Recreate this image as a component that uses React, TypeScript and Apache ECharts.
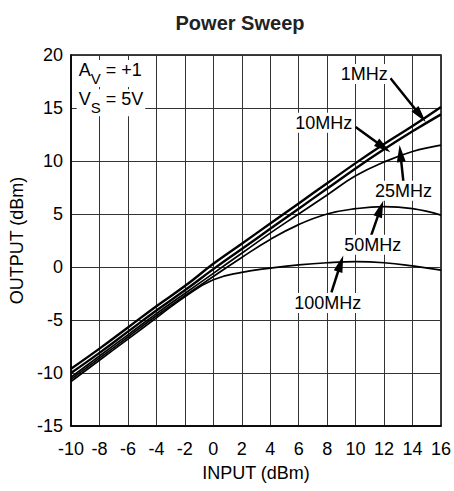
import React, { useEffect, useRef } from 'react';
import * as echarts from 'echarts';

const inputDbm = [-10, -8, -6, -4, -2, 0, 2, 4, 6, 8, 10, 12, 14, 16];
const out1MHz = [-9.6, -7.7, -5.7, -3.7, -1.8, 0.3, 2.2, 4.1, 6.0, 7.9, 9.8, 11.6, 13.3, 15.1];
const out10MHz = [-10.0, -8.1, -6.1, -4.1, -2.2, -0.2, 1.7, 3.6, 5.5, 7.4, 9.3, 11.1, 12.8, 14.4];
const out25MHz = [-10.4, -8.4, -6.4, -4.4, -2.5, -0.6, 1.3, 3.2, 5.0, 6.8, 8.6, 9.9, 10.9, 11.5];
const out50MHz = [-10.6, -8.6, -6.6, -4.6, -2.7, -0.9, 0.9, 2.6, 4.0, 5.0, 5.5, 5.7, 5.5, 4.9];
const out100MHz = [-10.8, -8.8, -6.8, -4.8, -2.8, -1.2, -0.5, -0.1, 0.2, 0.4, 0.5, 0.4, 0.1, -0.3];

const seriesNames = ['1MHz', '10MHz', '25MHz', '50MHz', '100MHz'];
const seriesValues = [out1MHz, out10MHz, out25MHz, out50MHz, out100MHz];

// label anchor points (data coords) and arrows [from, to]
const labelPoints: [number, number][] = [
  [10.6, 18.2],
  [7.76, 13.6],
  [13.36, 7.2],
  [11.2, 2.1],
  [8.04, -3.4],
];
const arrowFrom: [number, number][] = [
  [12.45, 17.8],
  [10.0, 13.2],
  [13.36, 8.0],
  [11.1, 3.0],
  [8.3, -2.4],
];
const arrowTo: [number, number][] = [
  [14.55, 14.3],
  [11.96, 11.3],
  [13.15, 10.7],
  [11.75, 5.5],
  [8.95, 0.33],
];
const condLabelPoints: [number, number][] = [
  [-9.6, 18.25],
  [-9.6, 15.5],
];

const FONT = '"Liberation Sans", Arial, Helvetica, sans-serif';

export default function App() {
  const ref = useRef<HTMLDivElement>(null);
  useEffect(() => {
    const chart = echarts.init(ref.current!, null, { renderer: 'svg' });
    const lineSeries = seriesNames.map((name, si) => ({
      name,
      type: 'line',
      data: inputDbm.map((x, i) => [x, seriesValues[si][i]]),
      showSymbol: false,
      smooth: 0.45,
      clip: true,
      silent: true,
      lineStyle: { color: '#000', width: si < 2 ? 2.4 : 1.7 },
      z: 3,
    }));

    const richStyle = {
      a: { fontSize: 18, fontFamily: FONT, color: '#000', lineHeight: 25, verticalAlign: 'top' },
      s: { fontSize: 15, fontFamily: FONT, color: '#000', lineHeight: 25, verticalAlign: 'bottom' },
    };

    const annotSeries = {
      name: 'annot',
      type: 'line',
      data: [],
      silent: true,
      z: 5,
      markPoint: {
        symbol: 'circle',
        symbolSize: 0,
        silent: true,
        data: [
          ...seriesNames.map((n, i) => ({
            coord: labelPoints[i],
            label: {
              show: true,
              position: 'inside',
              formatter: n,
              color: '#000',
              fontSize: 18,
              fontFamily: FONT,
              backgroundColor: '#fff',
              padding: [1, 2],
            },
          })),
          {
            coord: condLabelPoints[0],
            label: {
              show: true,
              position: 'inside',
              align: 'left',
              formatter: '{a|A}{s|V}{a| = +1}',
              backgroundColor: '#fff',
              padding: [1, 2],
              rich: richStyle,
            },
          },
          {
            coord: condLabelPoints[1],
            label: {
              show: true,
              position: 'inside',
              align: 'left',
              formatter: '{a|V}{s|S}{a| = 5V}',
              backgroundColor: '#fff',
              padding: [1, 2],
              rich: richStyle,
            },
          },
        ],
      },
      markLine: {
        silent: true,
        symbol: ['none', 'triangle'],
        symbolSize: [0, 14],
        label: { show: false },
        lineStyle: { color: '#000', width: 2.5, type: 'solid' },
        emphasis: { disabled: true },
        data: arrowFrom.map((f, i) => [
          { coord: f },
          { coord: arrowTo[i], symbol: 'triangle', symbolSize: [9, 17] },
        ]),
      },
    };

    chart.setOption({
      animation: false,
      backgroundColor: '#fff',
      title: {
        text: 'Power Sweep',
        left: 235,
        textAlign: 'center',
        top: 8,
        textStyle: { fontSize: 20, fontWeight: 'bold', color: '#222', fontFamily: FONT },
      },
      grid: {
        left: 71,
        right: 11,
        top: 55,
        bottom: 65,
        show: true,
        borderColor: '#000',
        borderWidth: 1.5,
        backgroundColor: 'transparent',
      },
      xAxis: {
        type: 'value',
        min: -10,
        max: 16,
        interval: 2,
        axisLine: { show: true, onZero: false, lineStyle: { color: '#000', width: 1.5 } },
        axisTick: { show: false },
        axisLabel: { color: '#000', fontSize: 18, fontFamily: FONT, margin: 14 },
        splitLine: { show: true, lineStyle: { color: '#333', width: 1 } },
        name: 'INPUT (dBm)',
        nameLocation: 'middle',
        nameGap: 38,
        nameTextStyle: { fontSize: 18, color: '#000', fontFamily: FONT },
      },
      yAxis: {
        type: 'value',
        min: -15,
        max: 20,
        interval: 5,
        axisLine: { show: true, onZero: false, lineStyle: { color: '#000', width: 1.5 } },
        axisTick: { show: false },
        axisLabel: { color: '#000', fontSize: 18, fontFamily: FONT, margin: 8 },
        splitLine: { show: true, lineStyle: { color: '#333', width: 1 } },
        name: 'OUTPUT (dBm)',
        nameLocation: 'middle',
        nameGap: 40,
        nameTextStyle: { fontSize: 18, color: '#000', fontFamily: FONT },
      },
      series: [...lineSeries, annotSeries],
    });
    return () => chart.dispose();
  }, []);
  return <div ref={ref} style={{ position: 'fixed', left: 0, top: 0, width: 454, height: 491 }} />;
}
